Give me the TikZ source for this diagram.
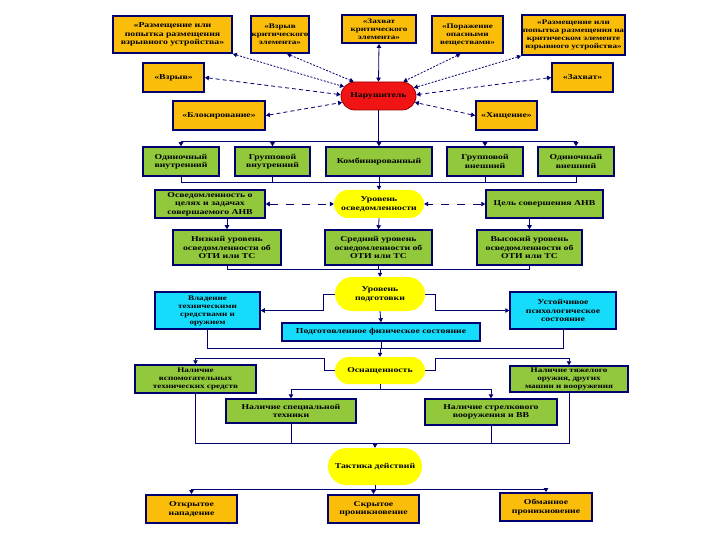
\documentclass[tikz,border=0pt]{standalone}
\usepackage{fontspec}
\setmainfont{Liberation Serif}[FakeStretch=1.3]
\usepackage{tikz}
\usetikzlibrary{arrows.meta, positioning, shapes.misc}

\definecolor{navy}{RGB}{0,0,110}
\definecolor{boxorange}{RGB}{250,190,10}
\definecolor{boxgreen}{RGB}{145,200,60}
\definecolor{boxcyan}{RGB}{20,220,250}
\definecolor{pillyellow}{RGB}{255,255,0}
\definecolor{pillred}{RGB}{240,20,20}

\begin{document}
\begin{tikzpicture}[
    x=1pt, y=-1pt,
    font=\fontsize{7.5}{8.5}\selectfont\bfseries,
    sz/.style 2 args={minimum width=#1pt, minimum height=#2pt},
    small/.style={font=\fontsize{7}{8}\selectfont\bfseries},
    obox/.style={rectangle, draw=navy, line width=1.8pt, fill=boxorange, align=center, inner sep=1pt},
    gbox/.style={obox, fill=boxgreen, line width=1.5pt},
    cbox/.style={obox, fill=boxcyan, line width=1.5pt},
    ypill/.style={rounded rectangle, fill=pillyellow, align=center, inner sep=1pt},
    rpill/.style={ypill, fill=pillred, draw=red!60!black, line width=0.8pt},
    wire/.style={navy, line width=0.8pt},
    arrow/.style={wire, -{Triangle[length=4pt, width=4.5pt]}},
    twoway/.style={wire, {Triangle[length=4pt, width=4.5pt]}-{Triangle[length=4pt, width=4.5pt]}}
]
\useasboundingbox (0,0) rectangle (720,540);

% Actions around the violator
\node[obox, sz={119}{37}] (razm) at (172.5,34.5) {«Размещение или\\попытка размещения\\взрывного устройства»};
\node[obox, sz={58}{37}, small] (vzrk) at (280,34.5) {«Взрыв\\критического\\элемента»};
\node[obox, sz={74}{28}, small] (zahk) at (379,29) {«Захват\\критического\\элемента»};
\node[obox, sz={71}{37}, small] (por) at (467.5,34.5) {«Поражение\\опасными\\веществами»};
\node[obox, sz={103}{40}, small] (razmk) at (573.5,35) {«Размещение или\\попытка размещения на\\критическом элементе\\взрывного устройства»};

\node[obox, sz={61}{29}] (vzryv) at (173.5,77.5) {«Взрыв»};
\node[obox, sz={61}{29}] (zahvat) at (582.5,77.5) {«Захват»};
\node[rpill, sz={77}{28}] (narush) at (378.5,96) {Нарушитель};
\node[obox, sz={92}{29}] (blok) at (219,115.5) {«Блокирование»};
\node[obox, sz={61}{29}] (hish) at (506.5,115.5) {«Хищение»};

% Kinds of violator
\node[gbox, sz={76}{29}] (odvn) at (181,161.5) {Одиночный\\внутренний};
\node[gbox, sz={75}{29}] (grvn) at (272.5,161.5) {Групповой\\внутренний};
\node[gbox, sz={106}{29}] (komb) at (379,161.5) {Комбинированный};
\node[gbox, sz={76}{29}] (grvs) at (485,161.5) {Групповой\\внешний};
\node[gbox, sz={76}{29}] (odvs) at (576,161.5) {Одиночный\\внешний};

% Awareness
\node[gbox, sz={110}{28}] (osvc) at (210,204) {Осведомленность о\\целях и задачах\\совершаемого АНВ};
\node[ypill, sz={92}{28}] (urosv) at (379,204) {Уровень\\осведомленности};
\node[gbox, sz={117}{28}] (celanv) at (544.5,204) {Цель совершения АНВ};

\node[gbox, sz={108}{35}] (nizk) at (227,247.5) {Низкий уровень\\осведомленности об\\ОТИ или ТС};
\node[gbox, sz={107}{35}] (sred) at (378.5,247.5) {Средний уровень\\осведомленности об\\ОТИ или ТС};
\node[gbox, sz={105}{35}] (vys) at (529.5,247.5) {Высокий уровень\\осведомленности об\\ОТИ или ТС};

% Training
\node[ypill, sz={92}{34}] (podg) at (380,294) {Уровень\\подготовки};
\node[cbox, sz={105}{37}, small] (vlad) at (207.5,310.5) {Владение\\техническими\\средствами и\\оружием};
\node[cbox, sz={106}{37}] (ustpsih) at (563,310.5) {Устойчивое\\психологическое\\состояние};
\node[cbox, sz={198}{18}] (fiz) at (381,332) {Подготовленное физическое состояние};

% Equipment
\node[ypill, sz={92}{27}] (osn) at (380,370.5) {Оснащенность};
\node[gbox, sz={121}{28}, small] (vspom) at (195.5,379) {Наличие\\вспомогательных\\технических средств};
\node[gbox, sz={118}{26}, small] (tyazh) at (569,379) {Наличие тяжелого\\оружия, других\\машин и вооружения};
\node[gbox, sz={130}{24}] (spec) at (291,411) {Наличие специальной\\техники};
\node[gbox, sz={132}{26}] (strel) at (491,412) {Наличие стрелкового\\вооружения и ВВ};

% Tactics
\node[ypill, sz={96}{37}] (takt) at (375,466.5) {Тактика действий};
\node[obox, sz={91}{28}] (otkr) at (191.5,509) {Открытое\\нападение};
\node[obox, sz={91}{28}] (skryt) at (373.5,509) {Скрытое\\проникновение};
\node[obox, sz={92}{28}] (obman) at (546,507) {Обманное\\проникновение};

% Arrows to the violator
\draw[twoway, dash pattern=on 2pt off 1.5pt] (razm.south east) -- (narush.165);
\draw[twoway, dash pattern=on 2pt off 1.5pt] (vzrk.-70) -- (narush.150);
\draw[twoway] (zahk.south) -- (narush.north);
\draw[twoway, dash pattern=on 2pt off 1.5pt] (por.-110) -- (narush.30);
\draw[twoway, dash pattern=on 2pt off 1.5pt] (razmk.south west) -- (narush.13);
\draw[twoway, dash pattern=on 4pt off 3pt] (vzryv.east) -- (narush.178);
\draw[twoway, dash pattern=on 4pt off 3pt] (zahvat.west) -- (narush.2);
\draw[twoway, dash pattern=on 4pt off 3pt] (blok.east) -- (narush.190);
\draw[twoway, dash pattern=on 4pt off 3pt] (hish.west) -- (narush.350);

% Violator to kinds
\draw[wire] (narush.south) -- ++(0,31) coordinate (bus1);
\draw[wire] (bus1 -| odvn) -- (bus1 -| odvs);
\draw[arrow] (bus1 -| odvn) -- (odvn.north);
\draw[arrow] (bus1 -| grvn) -- (grvn.north);
\draw[arrow] (bus1 -| komb) -- (komb.north);
\draw[arrow] (bus1 -| grvs) -- (grvs.north);
\draw[arrow] (bus1 -| odvs) -- (odvs.north);

\draw[wire] (odvn.south) -- ++(0,6) coordinate (bus2);
\draw[wire] (bus2) -- (bus2 -| odvs);
\draw[wire] (grvn.south) -- (grvn.south |- bus2);
\draw[wire] (komb.south) -- (komb.south |- bus2);
\draw[wire] (grvs.south) -- (grvs.south |- bus2);
\draw[wire] (odvs.south) -- (odvs.south |- bus2);
\draw[arrow] (bus2 -| urosv) -- (urosv.north);

% Awareness links
\draw[twoway, dash pattern=on 8pt off 8pt] (osvc.east) -- (urosv.west);
\draw[twoway, dash pattern=on 8pt off 8pt] (celanv.west) -- (urosv.east);
\draw[arrow] (nizk.north |- osvc.south) -- (nizk.north);
\draw[arrow] (urosv.south) -- (sred.north);
\draw[arrow] (vys.north |- celanv.south) -- (vys.north);

\draw[wire] (nizk.south) -- ++(0,4) coordinate (bus3);
\draw[wire] (bus3) -- (bus3 -| vys);
\draw[wire] (sred.south) -- (sred.south |- bus3);
\draw[wire] (vys.south) -- (vys.south |- bus3);
\draw[arrow] (bus3 -| podg) -- (podg.north);

% Training links
\draw[arrow] (podg.west) -- ++(-11,0) |- (vlad.east);
\draw[arrow] (podg.east) -- ++(10,0) |- (ustpsih.west);
\draw[arrow] (podg.south) -- (fiz.north);

\draw[wire] (vlad.south) -- ++(0,19) coordinate (bus4);
\draw[wire] (bus4) -- (bus4 -| ustpsih);
\draw[wire] (fiz.south) -- (fiz.south |- bus4);
\draw[wire] (ustpsih.south) -- (ustpsih.south |- bus4);
\draw[arrow] (bus4 -| osn) -- (osn.north);

% Equipment links
\draw[arrow] (osn.west) -- ++(-10,0) -- ++(0,-12) -| (vspom.north);
\draw[arrow] (osn.east) -- ++(10,0) -- ++(0,-12) -| (tyazh.north);
\draw[wire] (osn.south) -- ++(0,5) coordinate (bus5);
\draw[arrow] (bus5) -| (spec.north);
\draw[arrow] (bus5) -| (strel.north);

\draw[wire] (vspom.south) -- ++(0,50) coordinate (bus6);
\draw[wire] (bus6) -- (bus6 -| tyazh);
\draw[wire] (spec.south) -- (spec.south |- bus6);
\draw[wire] (strel.south) -- (strel.south |- bus6);
\draw[wire] (tyazh.south) -- (tyazh.south |- bus6);
\draw[arrow] (bus6 -| takt) -- (takt.north);

% Tactics links
\draw[wire] (takt.south) -- ++(0,4) coordinate (bus7);
\draw[arrow] (bus7) -| (otkr.north);
\draw[arrow] (bus7 -| skryt) -- (skryt.north);
\draw[arrow] (bus7) -| (obman.north);

\end{tikzpicture}
\end{document}
